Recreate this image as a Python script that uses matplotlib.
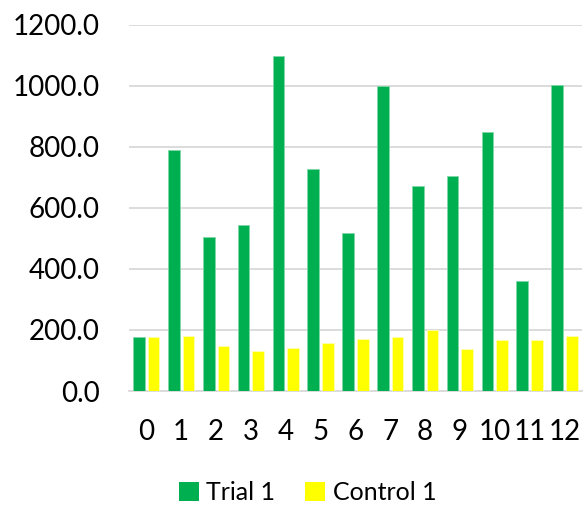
import matplotlib
matplotlib.use("Agg")
import matplotlib.pyplot as plt
from matplotlib.patches import Patch
import numpy as np

plt.rcParams["font.family"] = ["Lato", "DejaVu Sans"]

# values
categories = ["0", "1", "2", "3", "4", "5", "6", "7", "8", "9", "10", "11", "12"]
trial_1 = [178, 788, 506, 543, 1099, 726, 519, 1000, 671, 704, 849, 360, 1004]
control_1 = [178, 180, 148, 131, 141, 157, 170, 176, 200, 138, 167, 167, 180]
y_ticks = [0, 200, 400, 600, 800, 1000, 1200]

GREEN = "#00B050"
YELLOW = "#FFFF00"
GRID = "#D9D9D9"

fig = plt.figure(figsize=(5.86, 5.05), dpi=100)
ax = fig.add_axes([0.220, 0.2257, 0.773, 0.7253])

x = np.arange(len(categories))
w = 0.335
ax.bar(x - 0.21, trial_1, w, color=GREEN, edgecolor="#7fd8a8", linewidth=0.6, zorder=3)
ax.bar(x + 0.21, control_1, w, color=YELLOW, edgecolor="#ffffb0", linewidth=0.6, zorder=3)

ax.set_xlim(-0.5, len(categories) - 0.5)
ax.set_ylim(0, 1200)
ax.set_yticks(y_ticks)
ax.set_yticklabels([f"{v:.1f}" for v in y_ticks])
ax.set_xticks(x)
ax.set_xticklabels(categories)

ax.yaxis.grid(True, color=GRID, linewidth=1.3, zorder=0)
ax.set_axisbelow(True)
for side in ("left", "right", "top"):
    ax.spines[side].set_visible(False)
ax.spines["bottom"].set_color(GRID)
ax.spines["bottom"].set_linewidth(1.3)
ax.tick_params(axis="both", length=0, labelsize=20, colors="black")
ax.tick_params(axis="y", pad=21)
ax.tick_params(axis="x", pad=20)

handles = [Patch(facecolor=GREEN, label="Trial 1"),
           Patch(facecolor=YELLOW, label="Control 1")]
fig.legend(handles=handles, loc="center", bbox_to_anchor=(0.525, 0.024),
           ncol=2, frameon=False, fontsize=18, handlelength=0.8,
           handleheight=0.8, handletextpad=0.3, columnspacing=1.2)

fig.savefig("out.png", dpi=100)
